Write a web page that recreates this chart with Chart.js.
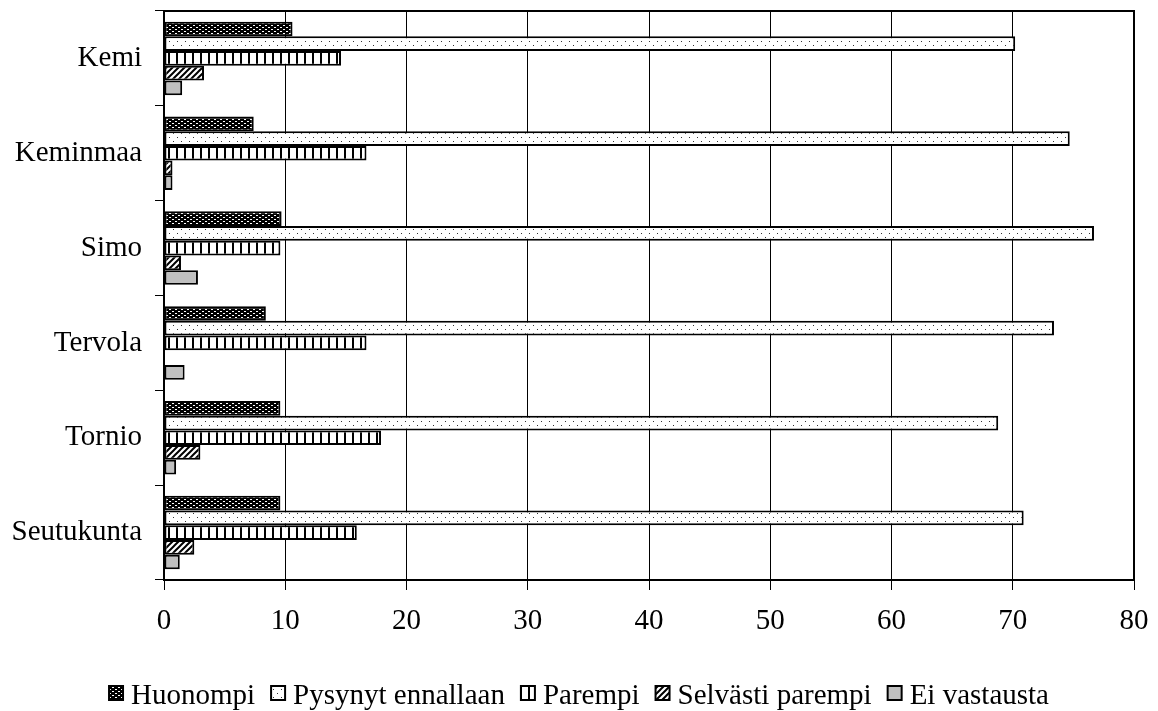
<!DOCTYPE html>
<html>
<head>
<meta charset="utf-8">
<script src="https://cdn.jsdelivr.net/npm/chart.js@4"></script>
<style>
  html, body { margin: 0; padding: 0; background: #fff; }
  #wrap { width: 1158px; height: 711px; }
</style>
</head>
<body>
<div id="wrap"><canvas id="chart" width="1158" height="711"></canvas></div>
<script>
// カテゴリ
const kunnat = ["Kemi", "Keminmaa", "Simo", "Tervola", "Tornio", "Seutukunta"];
// 系列名
const sarjat = ["Huonompi", "Pysynyt ennallaan", "Parempi", "Selvästi parempi", "Ei vastausta"];
// 値 (%)
const huonompi = [10.6, 7.4, 9.7, 8.4, 9.6, 9.6];
const pysynyt = [70.2, 74.7, 76.7, 73.4, 68.8, 70.9];
const parempi = [14.6, 16.7, 9.6, 16.7, 17.9, 15.9];
const selvasti = [3.3, 0.7, 1.4, 0, 3.0, 2.5];
const eiVastausta = [1.5, 0.7, 2.8, 1.7, 1.0, 1.3];
// x軸目盛
const xTicks = [0, 10, 20, 30, 40, 50, 60, 70, 80];

// パターン作成
function makePattern(w, h, draw) {
    const c = document.createElement("canvas");
    c.width = w;
    c.height = h;
    const g = c.getContext("2d");
    draw(g);
    return g.createPattern(c, "repeat");
}

const patHuonompi = makePattern(6, 4, g => {
    g.fillStyle = "#000";
    g.fillRect(0, 0, 6, 4);
    g.fillStyle = "#fff";
    g.fillRect(1, 1, 2, 1);
    g.fillRect(4, 3, 2, 1);
});
const patPysynyt = makePattern(8, 8, g => {
    g.fillStyle = "#fff";
    g.fillRect(0, 0, 8, 8);
    g.fillStyle = "#333";
    g.fillRect(1, 1, 1, 1);
    g.fillRect(5, 5, 1, 1);
});
const patParempi = makePattern(8, 8, g => {
    g.fillStyle = "#fff";
    g.fillRect(0, 0, 8, 8);
    g.fillStyle = "#000";
    g.fillRect(0, 0, 2, 8);
});
const patSelvasti = makePattern(6, 6, g => {
    g.fillStyle = "#fff";
    g.fillRect(0, 0, 6, 6);
    g.strokeStyle = "#000";
    g.lineWidth = 2;
    g.beginPath();
    g.moveTo(-3, 9); g.lineTo(9, -3);
    g.moveTo(-6, 6); g.lineTo(6, -6);
    g.moveTo(0, 12); g.lineTo(12, 0);
    g.stroke();
});

const fills = [patHuonompi, patPysynyt, patParempi, patSelvasti, "#c0c0c0"];
const values = [huonompi, pysynyt, parempi, selvasti, eiVastausta];

const fontFamily = "'Liberation Serif', 'Times New Roman', serif";
const fontSize = 29;

// 外枠
const framePlugin = {
    id: "frame",
    afterDraw(chart) {
        const { ctx, chartArea } = chart;
        ctx.save();
        ctx.strokeStyle = "#000";
        ctx.lineWidth = 2;
        ctx.strokeRect(chartArea.left, chartArea.top,
            chartArea.right - chartArea.left, chartArea.bottom - chartArea.top);
        ctx.restore();
    }
};

// 凡例 (箱と文字の間隔を詰める)
const legendPlugin = {
    id: "customLegend",
    afterDraw(chart) {
        const { ctx } = chart;
        const box = 14;
        const gap = 8;
        const itemGap = 16;
        ctx.save();
        ctx.font = fontSize + "px " + fontFamily;
        const widths = chart.data.datasets.map(ds => ctx.measureText(ds.label).width);
        let total = widths.reduce((a, b) => a + b, 0)
            + chart.data.datasets.length * (box + gap)
            + (chart.data.datasets.length - 1) * itemGap;
        let x = (chart.width - total) / 2;
        const boxTop = 686;
        ctx.textBaseline = "alphabetic";
        chart.data.datasets.forEach((ds, i) => {
            ctx.fillStyle = ds.backgroundColor;
            ctx.fillRect(x, boxTop, box, box);
            ctx.strokeStyle = "#000";
            ctx.lineWidth = 2;
            ctx.strokeRect(x, boxTop, box, box);
            ctx.fillStyle = "#000";
            ctx.fillText(ds.label, x + box + gap, boxTop + 18);
            x += box + gap + widths[i] + itemGap;
        });
        ctx.restore();
    }
};

new Chart(document.getElementById("chart"), {
    type: "bar",
    data: {
        labels: kunnat,
        datasets: sarjat.map((name, i) => ({
            label: name,
            data: values[i],
            backgroundColor: fills[i],
            borderColor: "#000",
            borderWidth: 2,
            borderSkipped: false,
            categoryPercentage: 0.775,
            barPercentage: 1.0
        }))
    },
    options: {
        indexAxis: "y",
        responsive: false,
        animation: false,
        layout: {
            padding: { top: 11, right: 24, bottom: 71, left: 0 }
        },
        scales: {
            x: {
                min: 0,
                max: 80,
                afterBuildTicks(scale) {
                    scale.ticks = xTicks.map(v => ({ value: v }));
                },
                afterFit(scale) {
                    scale.height = 60;
                    scale.paddingLeft = 0;
                    scale.paddingRight = 0;
                },
                grid: {
                    color: "#000",
                    lineWidth: 1,
                    tickLength: 10,
                    drawTicks: true
                },
                border: { color: "#000", width: 2 },
                ticks: {
                    color: "#000",
                    padding: 14,
                    font: { family: fontFamily, size: fontSize }
                }
            },
            y: {
                afterFit(scale) {
                    scale.width = 164;
                    scale.paddingTop = 0;
                    scale.paddingBottom = 0;
                },
                grid: {
                    drawOnChartArea: false,
                    color: "#000",
                    tickLength: 9,
                    offset: true
                },
                border: { color: "#000", width: 2 },
                ticks: {
                    color: "#000",
                    padding: 13,
                    font: { family: fontFamily, size: fontSize }
                }
            }
        },
        plugins: {
            legend: { display: false },
            tooltip: { enabled: false }
        }
    },
    plugins: [framePlugin, legendPlugin]
});
</script>
</body>
</html>
